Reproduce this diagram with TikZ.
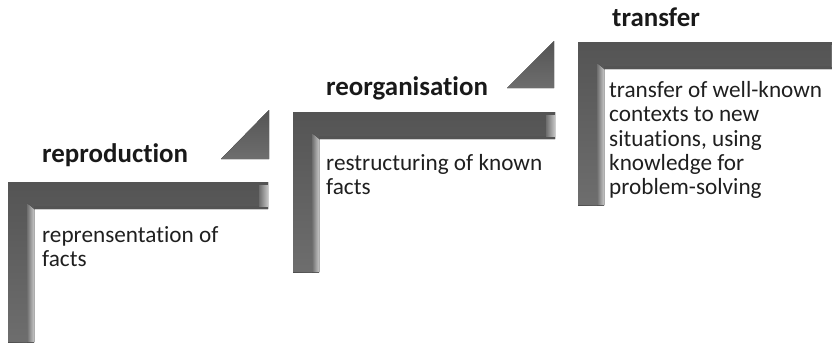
\documentclass[tikz,border=0pt]{standalone}
\usepackage{fontspec}
\setmainfont{Carlito}[Ligatures=NoCommon]
\usetikzlibrary{positioning}

\definecolor{stepgray}{gray}{0.43}
\definecolor{stepdark}{gray}{0.33}
\definecolor{steplight}{gray}{0.78}

\begin{document}
\begin{tikzpicture}[x=1bp,y=-1bp,
  title/.style={anchor=base west, inner sep=0pt, font=\fontsize{27}{31}\selectfont\bfseries, text=black!90},
  desc/.style={anchor=north west, inner sep=0pt, align=left, font=\fontsize{23.3}{24.5}\selectfont, text=black!88},
  wedge/.style={top color=stepdark, bottom color=stepgray}]
\useasboundingbox (0,0) rectangle (832,342);

\foreach \xa/\ya/\xb/\yb in {8/182/268/342, 293/112/555/272, 578/42/840/205}{
  \fill[left color=stepdark, right color=stepgray] (\xa,\ya) rectangle (\xa+26,\yb);
  \fill[top color=stepdark, bottom color=stepgray] (\xa,\ya) -- (\xb,\ya) -- (\xb,\ya+27) -- (\xa+26,\ya+27) -- (\xa+26,\yb) -- (\xa,\yb) -- cycle;
  \fill[left color=stepgray, right color=steplight] (\xa+19,\ya+21) -- (\xa+26,\ya+27) -- (\xa+26,\yb) -- (\xa+19,\yb) -- cycle;
  \fill[stepdark] (\xa+26,\ya+24) rectangle (\xb,\ya+27);
  \fill[left color=stepgray, right color=steplight] (\xb-9,\ya+3) rectangle (\xb,\ya+24);
}

\fill[wedge] (221,159) -- (269,110) -- (269,159) -- cycle;
\fill[wedge] (507,88) -- (554,41) -- (554,88) -- cycle;

\node[title] (reprod) at (42,162) {reproduction};
\node[title] (reorg) at (326,95) {reorganisation};
\node[title] (transf) at (612,26) {transfer};

\node[desc] (reproddesc) at (42,224.9) {\strut reprensentation of\\facts};
\node[desc] (reorgdesc) at (326,152.9) {\strut restructuring of known\\facts};
\node[desc] (transfdesc) at (609,79.9) {\strut transfer of well-known\\contexts to new\\situations, using\\knowledge for\\problem-solving};
\end{tikzpicture}
\end{document}
